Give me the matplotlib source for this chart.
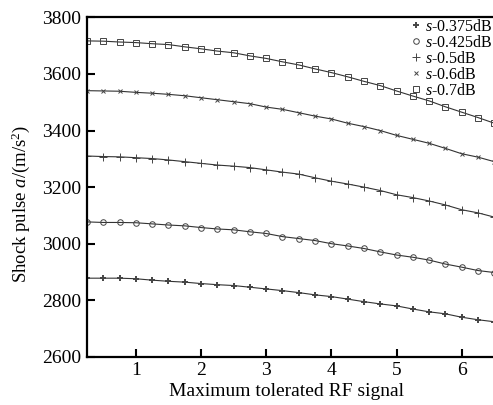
import matplotlib
matplotlib.use("Agg")
import matplotlib.pyplot as plt
import numpy as np

plt.rcParams["font.family"] = ["Liberation Serif", "DejaVu Serif"]
plt.rcParams["mathtext.fontset"] = "custom"
plt.rcParams["mathtext.rm"] = "Liberation Serif"
plt.rcParams["mathtext.it"] = "Liberation Serif:italic"

# RF signal grid (every 0.25)
rf_signal = np.arange(0.25, 6.51, 0.25)

s_0375 = [2878, 2878, 2878, 2876, 2871, 2867, 2864, 2859, 2855, 2852, 2846, 2840, 2834,
          2827, 2819, 2813, 2804, 2795, 2787, 2780, 2769, 2759, 2752, 2740, 2731, 2724]
s_0425 = [3077, 3075, 3075, 3074, 3070, 3066, 3063, 3057, 3052, 3049, 3042, 3036, 3025,
          3018, 3011, 3000, 2992, 2983, 2971, 2960, 2952, 2942, 2928, 2917, 2905, 2898]
s_05 = [3310, 3308, 3307, 3304, 3301, 3296, 3290, 3284, 3278, 3274, 3269, 3261, 3253,
        3246, 3233, 3221, 3211, 3200, 3188, 3173, 3163, 3151, 3137, 3120, 3109, 3094]
s_06 = [3541, 3540, 3539, 3535, 3532, 3528, 3523, 3516, 3509, 3502, 3495, 3483, 3475,
        3463, 3451, 3441, 3426, 3414, 3400, 3383, 3369, 3355, 3337, 3318, 3306, 3290]
s_07 = [3717, 3716, 3713, 3711, 3707, 3704, 3696, 3689, 3681, 3675, 3664, 3655, 3643,
        3632, 3618, 3605, 3590, 3574, 3559, 3540, 3522, 3505, 3484, 3465, 3446, 3426]

labels = ["$s$-0.375dB", "$s$-0.425dB", "$s$-0.5dB", "$s$-0.6dB", "$s$-0.7dB"]
series = [s_0375, s_0425, s_05, s_06, s_07]
styles = [
    dict(marker="+", ms=5, mew=1.4),
    dict(marker="o", ms=4, mew=0.7, mfc="none"),
    dict(marker="+", ms=6, mew=0.7),
    dict(marker="x", ms=3, mew=0.7),
    dict(marker="s", ms=4.5, mew=0.7, mfc="none"),
]

fig = plt.figure(figsize=(4.93, 4.05), dpi=100)
ax = fig.add_axes([0.1765, 0.119, 0.826, 0.838])

handles = []
for vals, lab, st in zip(series, labels, styles):
    ax.plot(rf_signal, vals, color="#333333", lw=0.8)
    h, = ax.plot(rf_signal, vals, ls="none", color="#444444", mec="#444444", label=lab, **st)
    handles.append(h)

ax.set_xlim(0.25, 6.5)
ax.set_ylim(2600, 3800)
ax.set_xticks([1, 2, 3, 4, 5, 6])
ax.set_yticks(np.arange(2600, 3801, 200))
ax.tick_params(direction="in", length=6, width=1.5, labelsize=14)
ax.tick_params(axis="y", pad=4.5)
ax.tick_params(axis="x", pad=4)
for side in ("left", "bottom", "top"):
    ax.spines[side].set_linewidth(1.6)
ax.spines["right"].set_visible(False)

ax.set_xlabel("Maximum tolerated RF signal", fontsize=14)
ax.set_ylabel("Shock pulse $a$/(m/s$^2$)", fontsize=13.5)
ax.xaxis.set_label_coords(0.49, -0.078)
ax.yaxis.set_label_coords(-0.135, 0.45)

ax.legend(handles=handles, loc="upper right", bbox_to_anchor=(1.0, 1.0),
          frameon=False, fontsize=11.5, handlelength=0.6, handletextpad=0.3,
          labelspacing=0.0, borderpad=0.1, borderaxespad=0.0)

fig.savefig("out.png", dpi=100)
